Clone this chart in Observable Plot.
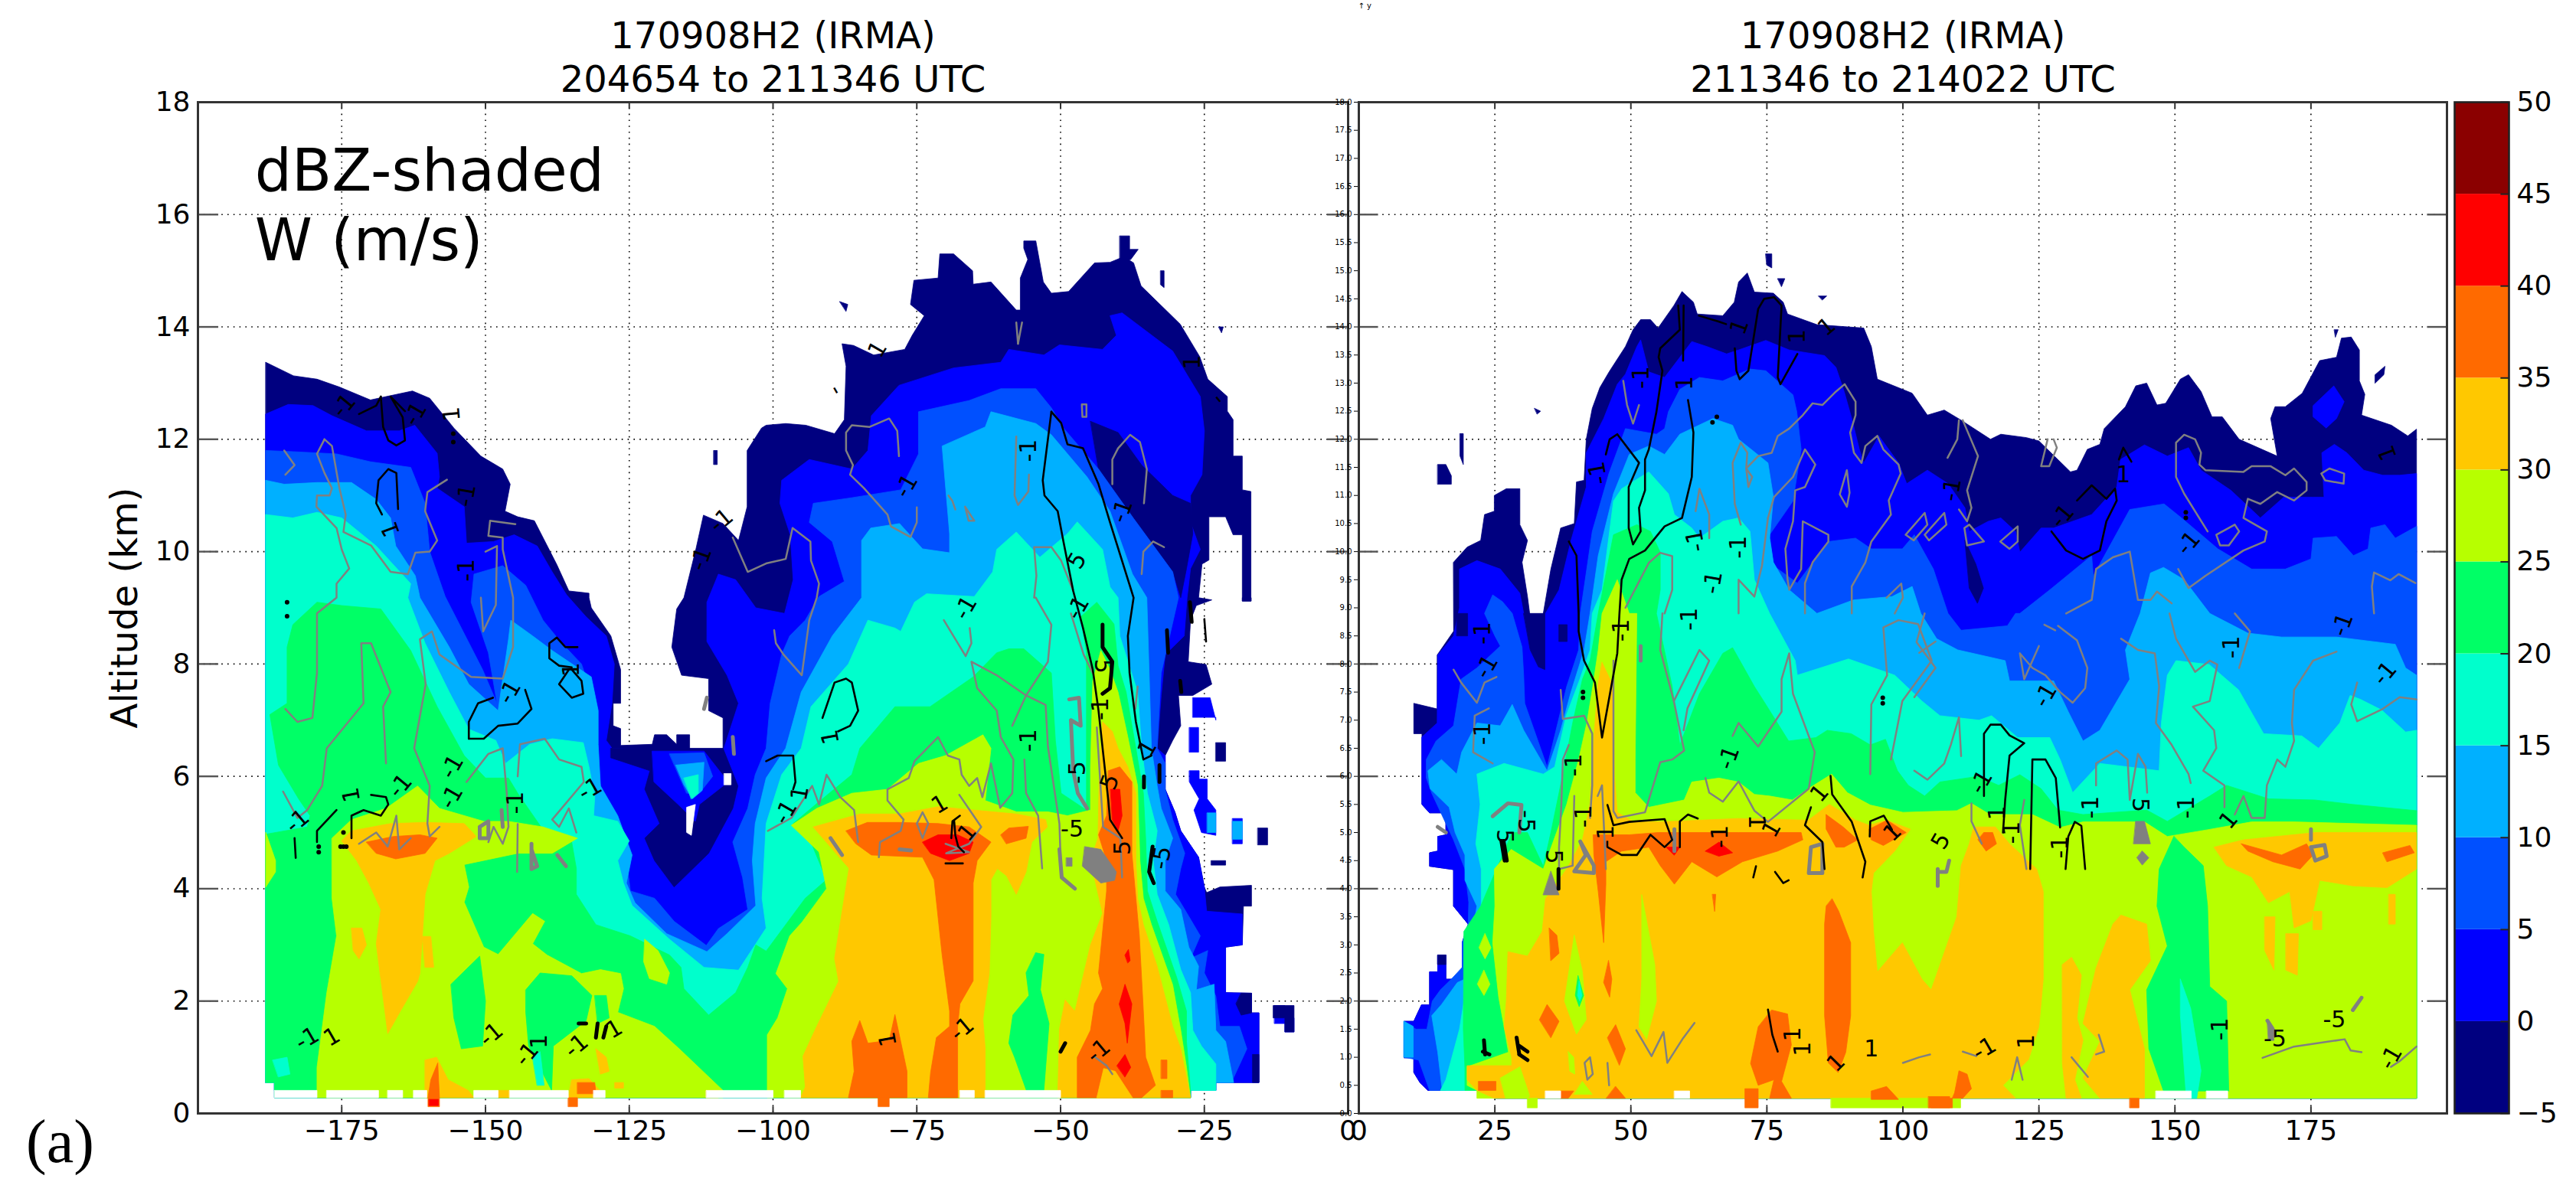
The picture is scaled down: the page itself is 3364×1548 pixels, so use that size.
<!DOCTYPE html>
<html><head><meta charset="utf-8">
<script src="https://cdn.jsdelivr.net/npm/d3@7"></script>
<script src="https://cdn.jsdelivr.net/npm/@observablehq/plot@0.6"></script>
<style>html,body{margin:0;padding:0;background:#fff}#c{position:relative;width:3364px;height:1548px;overflow:hidden;font-family:"DejaVu Sans"}#c svg{position:absolute;top:0;max-width:none}</style>
</head><body><div id="c"></div>
<script>
const C={n:"#000080",b0:"#0000ff",b5:"#0050ff",b10:"#00b0ff",b15:"#00ffcc",b20:"#00ff66",b25:"#b7ff00",b30:"#ffc800",b35:"#ff6a00",b40:"#ff0000",b45:"#8b0000",w:"#ffffff"};
const barLevels=[-5,0,5,10,15,20,25,30,35,40,45,50];
const barColors=[C.n,C.b0,C.b5,C.b10,C.b15,C.b20,C.b25,C.b30,C.b35,C.b40,C.b45];
const yTicks=[0,2,4,6,8,10,12,14,16,18];
const xTicksL=[-175,-150,-125,-100,-75,-50,-25,0];
const xTicksR=[0,25,50,75,100,125,150,175];
const barTicks=[-5,0,5,10,15,20,25,30,35,40,45,50];

// ---------- LEFT PANEL: reflectivity regions (x km, altitude km)
const L_env=[-188.2,13.37,-183.4,13.13,-179.3,13.07,-175.4,12.93,-170,12.7,-162.7,12.86,-159.7,12.73,-155.5,12.2,-150.8,11.7,-147,11.47,-145.7,11.2,-146.6,10.72,-144.4,10.62,-141.5,10.55,-137.6,9.77,-135.5,9.3,-132,9.26,-132,9.18,-131.6,9,-128.2,8.5,-126.5,7.9,-126.5,7.3,-127.8,7.3,-127.8,6.9,-126.5,6.85,-126.5,6.55,-121,6.57,-120.6,6.74,-118.5,6.74,-116.75,6.57,-116.75,6.74,-114.5,6.74,-114.5,6.45,-108.7,6.45,-108.7,7.04,-111.2,7.17,-111.2,7.74,-115.9,7.8,-117.6,8.3,-116.75,8.98,-115.5,9.18,-113.4,10.05,-112.1,10.65,-108.7,10.5,-106,10.2,-104.5,10.8,-104.5,11.8,-102,12.2,-101.2,12.25,-97.8,12.28,-94.3,12.25,-89.3,12.1,-87.6,12.35,-87.3,13.3,-88,13.7,-86,13.67,-82.5,13.5,-77.1,13.6,-75.8,13.85,-73.7,14.2,-76.1,14.4,-75.5,14.83,-71.3,14.87,-71,15.3,-68.6,15.3,-65.3,15,-65.2,14.76,-62.1,14.8,-57.7,14.3,-57,14.3,-57,14.87,-55.7,15.2,-56.4,15.4,-56.4,15.53,-54.3,15.53,-53,14.8,-51.6,14.6,-48.6,14.63,-44.1,15.14,-41.4,15.15,-39,15.25,-37.3,15.14,-36,14.73,-29.2,14.05,-25.8,13.47,-24.4,13.07,-21,12.76,-21,12.5,-20,12.35,-20,11.7,-18.4,11.7,-18.4,11.1,-16.9,11.07,-16.9,9.12,-18.4,9.12,-18.4,10.3,-20,10.3,-21.3,10.62,-24.2,10.62,-24.2,9.85,-25.4,9.78,-26,9.18,-23.7,9.14,-26.4,9.04,-27.4,8.78,-27.8,8.04,-24.7,7.99,-23.7,7.64,-27,7.44,-29.5,7.44,-29.1,6.9,-30.5,6.64,-31.8,6.37,-31.8,5.77,-30.1,5.36,-29.1,5.03,-26,4.56,-25,4.03,-24.6,3.93,-22.3,4.03,-16.8,4.06,-16.8,3.69,-18.2,3.69,-18.4,3,-21.3,2.96,-21.3,2.15,-16.8,2.14,-16.8,1.79,-15.5,1.79,-15.5,.55,-23,.55,-23,.41,-27.4,.41,-27.4,.28,-186.7,.28,-186.7,.55,-188.2,.55];
const L_ge0=[-188.2,12.45,-184.3,12.62,-180,12.6,-176.7,12.42,-170.7,12.15,-165,12.15,-162.3,12.25,-158.4,11.75,-158,11.33,-158.4,11.13,-153.7,10.8,-153.3,10.15,-148.6,10.18,-145,10.3,-141,10.1,-138.4,9.64,-135.9,9.23,-132.5,8.84,-129,8.5,-127.6,8,-128,7.3,-129,6.64,-128,6.5,-108.7,6.45,-106,7.3,-108,7.8,-111.5,8.4,-111.5,9.1,-109.5,9.6,-106.5,9.5,-103,9,-98,8.9,-96.5,9.5,-97,10.3,-98.8,10.86,-98.5,11.27,-93.7,11.64,-86.3,11.47,-83.5,11.8,-82.9,12.42,-78.1,12.96,-68.6,13.27,-60.4,13.37,-59,13.6,-52.9,13.5,-50.2,13.68,-42.7,13.6,-40.3,13.85,-41.4,14.2,-39.3,14.25,-30.5,13.57,-25.7,12.76,-25,12.15,-25.4,11.37,-27.4,11,-27.4,10.52,-25.7,10.04,-27.4,9.7,-28,9.18,-28.5,8.5,-31.8,8.17,-32.5,7.44,-33.2,6.5,-31.8,6.37,-31.8,5.77,-30.1,5.36,-29.1,5.03,-26,4.56,-25,4.03,-24.6,3.6,-18.4,3.55,-18.4,3,-21.3,2.96,-21.3,2.15,-16.8,2.14,-16.8,1.79,-15.5,1.79,-15.5,.55,-23,.55,-23,.41,-27.4,.41,-27.4,.28,-186.7,.28,-186.7,.55,-188.2,.55];
const L_navyMoat=[-128.2,6.5,-108.7,6.5,-106.1,5.83,-107,5.43,-111.2,4.63,-117.2,4.03,-120.6,4.5,-122.3,4.9,-119.7,5.16,-122.3,5.77,-121.4,6.1,-128.2,6.33];
const L_navyTongue=[-44.8,12.32,-40,12.12,-35.9,11.54,-30.5,11,-27.4,10.86,-27,10.32,-28.1,9.7,-29.1,9.18,-30.5,9.64,-37.3,10.59,-43.4,11.47];
const L_navySpots=[[-18.6,2.14,-16.8,2.14,-16.8,1.79,-18.6,1.75,-19.5,1.95],[-16.6,1.05,-15.5,1.05,-15.5,.55,-16.6,.55],[-13,1.92,-9.4,1.92,-9.4,1.45,-11,1.45,-11,1.7,-13,1.7]];
const L_moatBlue=[-121,6.45,-112,6.45,-107.8,5.9,-112.8,5.5,-113.5,5.2,-116.5,5.5,-120.7,5.9];
const L_moat5=[-118,6.4,-112,6.42,-110.5,6,-112.8,5.7,-115,5.7];
const L_moat10=[-116.9,6.2,-112,6.25,-112.3,5.75,-114,5.6,-115.5,5.85];
const L_moat15=[-115.5,5.97,-113,6.03,-113,5.7,-114.2,5.6];
const L_ge5=[-188.2,11.8,-183.5,11.78,-175.9,11.74,-170,11.6,-163,11.5,-160.5,10.86,-159.7,10,-157,9.2,-150.5,7.9,-148,7.3,-149.5,8.2,-152.5,9.1,-152,9.6,-147,9.75,-143,9.4,-140,8.78,-137,8.4,-133.3,8,-130.6,7.17,-130.4,6,-129,5.43,-128.2,4.83,-125.3,4.36,-124.8,3.96,-120.6,3.83,-117.2,3.42,-111.6,2.99,-109.5,3.29,-104.4,3.63,-105.3,4.2,-107,4.83,-104.4,5.43,-103.1,6.03,-101.2,6.5,-100.5,7.3,-98.5,8.17,-97.1,8.5,-94.4,8.78,-92,9.2,-87.6,9.47,-89.7,10.18,-93.7,10.52,-93,10.86,-86.3,10.96,-77.8,11.1,-74.7,11.74,-74.7,12.49,-65.9,12.69,-60.4,12.9,-54.3,12.9,-51.6,12.56,-49.5,12.2,-43.4,11.47,-37.3,10.59,-30.5,9.64,-29.5,9.18,-32.5,7.84,-33.2,6.5,-31.8,6.23,-31.8,5.77,-30.5,5.23,-28.4,4.63,-29.1,4.36,-30,3.9,-28,3.56,-25.7,3.16,-27.4,2.76,-24.4,2.9,-25,2.5,-23,2.09,-22.3,1.55,-18.9,1.55,-17.6,1.15,-20.3,.55,-23,.55,-23,.41,-27.4,.41,-27.4,.28,-186.7,.28,-186.7,.55,-188.2,.55];
const L_ge10=[-188.2,11.27,-185,11.2,-179.3,11.23,-173.3,11.23,-169,10.93,-166.5,10.6,-165.6,10.1,-162.2,9.57,-161.4,9.18,-156.3,8.3,-152.9,7.64,-147.8,7.17,-146,8.44,-145.6,8.78,-141.8,8.5,-138.4,8.24,-131.6,7.77,-130.4,7.17,-130.4,6.57,-130,5.83,-127,5.3,-124.5,4.6,-125.5,4.1,-124,3.75,-118.5,3.2,-111.5,2.88,-108,3.2,-103,3.7,-103.6,4.5,-103.1,5.16,-101.2,5.97,-97.8,6.5,-95.1,7.5,-89.7,8.5,-84.6,9.18,-84.6,10.2,-83,10.42,-78,10.5,-74,10.05,-69.3,9.98,-69.3,10.32,-70.6,11.88,-63.1,12.22,-62.1,12.49,-54.3,12.28,-51.6,12.08,-45.4,11.33,-41.4,10.72,-37.5,9.6,-35,9.18,-34.6,7.84,-34.2,6.5,-33.2,5.83,-32.5,5.43,-30.5,4.9,-31.8,4.5,-31.8,3.96,-29.1,3.63,-27.7,2.96,-26,2.62,-26.4,2.2,-23.3,2.3,-23,1.48,-21.3,1.28,-19.9,.55,-23,.55,-23,.41,-27.4,.41,-27.4,.28,-186.7,.28,-186.7,.55,-188.2,.55];
const L_ge15=[-188.2,10.66,-183.5,10.6,-179.3,10.7,-175,10.6,-169,10.1,-163,9.43,-163.5,9.18,-160.5,8.37,-156.3,7.5,-152.9,6.84,-148.2,6.64,-146.5,6.23,-142.3,6.57,-138.4,6.67,-133,6.6,-132,6.17,-131,5.63,-131.2,5.3,-127,5.2,-125,4.85,-127,4.5,-126,4.1,-124.5,3.7,-118,3.1,-112,2.6,-106,2.55,-101.2,3.3,-101.9,3.83,-101.2,5.16,-98.5,6.03,-95.1,6.5,-93.4,7.24,-86.9,8,-83.5,8.78,-78.8,8.64,-77.8,8.58,-75.4,9.1,-73.3,9.25,-65,9.2,-61.8,9.64,-61.1,10.04,-57.7,10.35,-53.6,9.9,-48.8,10.32,-47.1,10.53,-42.7,10.04,-41.4,9.37,-40,9.18,-39.7,8.5,-36.6,7.5,-35.9,6.5,-34.9,5.7,-33.2,5.03,-33.9,4.5,-33.2,3.9,-31.2,3.36,-29.1,2.56,-27.4,2.15,-27,1.48,-25.5,1.2,-23,.88,-23,.55,-23,.41,-27.4,.41,-27.4,.28,-186.7,.28,-186.7,.55,-188.2,.55];
const L_ge20=[-188.2,4.97,-181,5.1,-180.5,5.3,-182.5,5.6,-186,6.2,-187.5,7.1,-184.5,7.3,-184.5,8.3,-183.5,8.7,-179.3,9.1,-175,9.04,-168.2,8.98,-163,8.24,-158.4,7.24,-153.7,6.37,-150,5.97,-146,5.97,-144.4,5.7,-140,5.05,-135,4.83,-134.2,4.36,-134.2,3.9,-130.8,3.36,-124.8,3.16,-118,2.82,-116,2.6,-115.5,2.22,-111.2,1.75,-106.5,2.15,-104.4,2.6,-103,3,-101.2,2.89,-94.4,3.83,-90.7,4.16,-93.7,4.9,-96.5,5.16,-92,5.55,-86.3,6.03,-84.9,6.5,-78.8,7.24,-72.7,7.24,-65.2,7.77,-61.1,8.2,-59,8.27,-56.4,8.27,-51.6,7.84,-50.9,6.64,-49.9,5.7,-45.5,5.4,-45.5,7,-45.5,8.2,-46.5,8.84,-43.7,9.1,-40.7,8.71,-40,7.97,-38.6,7.5,-36.9,6.5,-35.6,5.7,-35.2,4.9,-34.9,3.96,-33.2,3.42,-29.8,2.42,-28.1,1.82,-28.1,1.28,-27.4,.41,-27.4,.28,-186.7,.28,-186.7,.55,-188.2,.55];
const L_ge25a=[-176.7,4.9,-173.3,5.23,-167.3,5.43,-161.8,5.83,-158,5.43,-150.3,5.2,-146,5.2,-140,5.1,-134,4.9,-138.4,4.63,-144.4,4.63,-153.7,4.43,-152.9,4.03,-153.7,3.76,-150.3,2.96,-147.8,2.83,-141.8,3.56,-139.7,3.42,-141.8,3.02,-139.3,2.82,-133.3,2.49,-130,2.56,-126.5,2.49,-126,2.22,-127,1.8,-120.6,1.55,-116.3,1.15,-108.7,.41,-108.7,.28,-179.3,.28,-179.3,.82,-177.6,2.15,-175.9,3.16,-176.7,3.83];
const L_ge25b=[-96.8,5.13,-92.4,5.43,-86.3,5.7,-80.1,5.77,-74.7,6.23,-70,6.37,-63.5,6.74,-62.1,6.5,-63.1,5.57,-57.7,5.37,-52.2,5.37,-48.8,5.3,-44.8,5.4,-44.8,6.17,-44.4,7.7,-43,8.24,-41.4,7.9,-40,7.5,-38.3,6.7,-36.6,5.83,-36.2,4.5,-35.6,3.83,-34.2,3.36,-30.5,2.29,-29.1,1.48,-28.1,.82,-27.4,.28,-101,.28,-101,1.4,-99.2,1.7,-97.5,2.22,-99.5,2.49,-97.1,3.16,-95,3.4,-90.7,4,-92,4.65];
const L_ge25c=[-188.2,5,-186.5,4.5,-186.5,4.3,-188.2,4.03];
const L_ge25d=[-122.3,3.1,-120,2.9,-118,2.5,-118.5,2.3,-121.5,2.4,-122.5,2.7];
const L_holes20=[[-156,2.3,-151,2.8,-150,2,-150.5,1.2,-154.2,1.15,-155.5,1.7],[-143,2.2,-140.5,2.5,-135,2.45,-131.5,2.1,-132.5,1.65,-138.2,1.2,-138.5,.41,-142.5,1.2,-143,1.8],[-131,2.1,-129,2.1,-128.5,1.7,-130.5,1.6],[-54.3,2.86,-52.9,2.83,-53.5,2.2,-52,1.6,-53,.28,-55.5,.28,-58,1,-59,1.25,-58.3,1.75,-55.5,2.1,-56,2.5],[-184,1.2,-181.5,1.2,-180,.9,-181,.41,-186,.41,-186,.8]];
const L_cyanSpots=[[-187,.95,-184.5,1,-184,.7,-186,.65],[-141.8,1,-140.5,1.1,-139.8,.5,-141,.5]];
const L_ge30=[[-173.3,5.03,-166.5,5.16,-160.5,5.18,-153.7,5.16,-151.6,4.93,-156.3,4.63,-158.8,4.5,-160.5,3.9,-161.4,2.49,-161.8,2.35,-164.8,1.82,-167,1.42,-169,3.02,-168.2,3.63,-170.3,4.1,-172.4,4.5,-175,4.85],[-173.3,3.3,-171.5,3.3,-170.7,3,-172,2.75,-173,2.9],[-161,3.15,-159.5,3.15,-159,2.6,-160.5,2.6],[-160.5,.95,-158.5,1,-156.5,.6,-153,.41,-152,.28,-160.5,.28],[-135,.6,-132,.62,-130,.4,-130,.28,-135.6,.28],[-130.8,1.15,-129,1,-128.5,.75,-130,.7],[-127.5,.55,-126,.55,-126,.45,-127.5,.45],[-111.6,.41,-109.5,.41,-109.5,.28,-111.6,.28],[-147.8,.41,-145.8,.41,-145.8,.28,-147.8,.28],
[-93,5.1,-84.9,5.33,-78,5.33,-71.3,5.46,-57.7,5.33,-52.6,5.23,-52.3,5.1,-55,4.83,-56,4.3,-57.7,3.9,-59.4,4.23,-61,4.36,-62.1,4.16,-62.1,3.49,-62.4,2.49,-63.5,1.68,-63.1,1.15,-63.1,.28,-95.2,.28,-94.4,.47,-94.8,1.02,-92.4,1.55,-88.6,2.35,-89.3,2.76,-86.8,4.36],
[-42.7,6.97,-41,6.8,-40,6.5,-38.3,6.17,-36.9,5.7,-36.9,4.5,-36.6,3.83,-35.6,3.36,-33.2,2.62,-30.5,1.55,-29.1,1.15,-27.4,.28,-50.5,.28,-50.2,1.5,-49.2,2.02,-47.5,1.82,-44.8,3,-42.7,3.56,-44.8,4.5,-43.5,4.9,-43.3,5.9]];
const L_ge35=[[-170.7,4.83,-166,4.93,-161.4,4.96,-158.4,4.9,-160.5,4.63,-165.6,4.53,-169,4.63],[-87.3,5.03,-83.6,5.18,-78,5.18,-71.3,5.16,-65.9,5.1,-62.1,4.83,-64.5,4.5,-65.2,4.1,-65.2,2.36,-67.5,1.95,-67.9,1.55,-67.9,.28,-73,.28,-72.6,.73,-71.6,1.35,-69.3,1.55,-69.3,1.82,-70.6,2.82,-72,4.16,-74,4.56,-82.9,4.6,-85.6,4.8],[-60.4,4.96,-59,5.08,-55.6,5.11,-56,4.9,-59.4,4.8],[-84.9,1.65,-83.5,1.25,-79.8,1.3,-78.8,1.76,-77.8,1.28,-76.7,.75,-76.7,.28,-86.9,.28,-85.9,.75,-86.3,1.28],[-81.7,.28,-79.8,.28,-79.8,.12,-81.7,.12],[-41.7,6.1,-39.7,6.17,-37.6,5.9,-37.6,4.63,-36.9,3.83,-36.3,3.16,-35.6,1.82,-35.2,1,-33.5,.5,-35.9,.28,-47.1,.28,-47.1,1,-44.8,1.48,-44.1,1.95,-42.7,2.22,-43.4,2.5,-42,3.96,-42,4.5,-43.4,4.96,-42,5.3],[-32.5,.95,-31.5,.95,-31.5,.62,-32.5,.62],[-32.5,.41,-30.5,.41,-30.5,.28,-32.5,.28],[-159.5,.6,-158.3,.9,-158,.28,-158,.12,-160,.12,-160,.28],[-135.6,.28,-134,.28,-134,.12,-135.6,.12],[-134,.55,-131,.55,-130.8,.35,-134,.35]];
const L_amberSpots=[[-43.7,.28,-42.5,.8,-40.5,.75,-37.5,.28]];
const L_ge40=[[-74,4.83,-71.3,4.96,-67.9,4.96,-65.2,4.83,-65.9,4.63,-69.3,4.5,-72.6,4.63],[-41.3,5.77,-39.7,5.77,-39.3,5.3,-40,5.03,-41,5.23],[-38.8,2.82,-38.2,2.92,-37.9,2.72,-38.3,2.68],[-39.8,1.95,-38.8,2.3,-37.6,1.95,-38.4,1.25,-38.8,1.6],[-40.2,.85,-38.8,1.05,-37.8,.82,-38.8,.65],[-159.8,.25,-158.2,.25,-158.2,.14,-159.8,.14]];
const L_gapsX=[[-186.7,-179.3],[-177.6,-168.6],[-167,-164.4],[-162.5,-160.2],[-152,-147.8],[-145.8,-135.6],[-131.2,-129.2],[-111.6,-100],[-98,-95.2],[-67.5,-65],[-63.1,-50]];
const L_isles=[[-110.3,11.8,-109.7,11.8,-109.7,11.55,-110.3,11.55],[-88.4,14.45,-87,14.4,-87.3,14.28],[-39.7,15.62,-38,15.62,-38,15.38,-36.5,15.38,-37.8,15.2,-39.7,15.15],[-32.6,15,-32,15,-32,14.7,-32.6,14.75],[-22.5,14,-21.7,14,-22,13.9],[-16.9,9.18,-18.4,9.18,-18.4,9.12,-16.9,9.12],[-23,6.6,-21.3,6.6,-21.3,6.27,-23,6.27],[-23.8,4.5,-21.3,4.5,-21.3,4.42,-23.8,4.42],[-15.7,5.08,-14,5.08,-14,4.78,-15.7,4.78]];
const L_bluePieces=[[-27.6,6.87,-26,6.87,-26,6.43,-27.6,6.43],[-27,7.4,-24,7.4,-23,7,-23,7.05,-26,7.05,-27,7.05],[-27.6,6.1,-25.9,6.1,-25.9,5.95,-24.5,5.95,-24.5,5.6,-23,5.4,-23,4.95,-25.5,5,-26.8,5.4,-25.9,5.6,-27.6,5.9],[-20.1,5.25,-18.4,5.25,-18.4,4.8,-20.1,4.8],[-12.8,1.92,-11,1.92,-11,1.7,-9.4,1.7,-9.4,1.45,-11,1.45,-11,1.6,-12.8,1.6]];
const L_b10Pieces=[[-20.1,5.2,-18.4,5.2,-18.4,4.88,-20.1,4.88],[-24.5,5.35,-23,5.35,-23,5,-24.5,5]];
const L_gray=[[-185,11.8,-183.2,11.54,-184.8,11.37],[-178,12,-179.3,11.74,-178,11.4,-176.7,11.13,-177.1,11,-179.3,11,-179.4,10.8,-175.9,10.42,-175,10.04,-173.7,9.7,-175.9,9.43,-175.9,9.18,-179.3,8.9,-179.3,7.84,-180.1,7.04,-182.7,6.97,-184.8,7.2],[-178,12,-176.7,11.88,-175.4,11.13,-174.3,10.66,-174.7,10.35,-169.9,10.11,-166.5,9.64,-163.5,9.6,-162.2,9.98,-159.7,10,-158.4,10.2,-160.5,10.72,-160.1,11.06,-156.7,11.28],[-167.3,6.23,-167.8,7.24,-166.5,7.5,-169.9,8.37,-171.6,8.37,-171.2,7.3,-177.6,6.5,-178.4,5.83,-181,5.4,-182.7,5.26,-185.2,5.73],[-158,5.1,-159.7,4.93,-160.1,5.16,-159.7,5.83,-162.4,6.5,-160.4,7.64,-161.4,8.44,-159.3,8.58,-158,8.17,-152.5,7.77,-147,7.74,-145.2,8.3,-145.2,9.18,-147,10.04,-147,10.25,-149.5,10.28,-149.2,10.55,-144.8,10.49],[-150.8,9.18,-150.4,8.58,-148.2,9.05,-148,10.1,-150,10],[-153.3,5.9,-149.5,6.4,-147,6.5,-146.3,5.7,-146,5.1,-147,4.8,-148.6,5.1,-149.5,4.83],[-144.4,6,-144,6.57,-139.7,6.67,-137.2,6.3,-133.3,6.17,-132.9,5.9,-138.4,5.23,-137.2,5.1,-135.5,5.43,-134.2,5],[-172,4.8,-169,5,-167,4.75,-165.5,5.3,-165,4.7,-163,4.9],[-144.5,4.3,-144.4,5.15],
[-78.1,11.7,-78.4,12.15,-79.8,12.37,-83.2,12.22,-86.3,12.25,-87.3,12.12,-87.3,11.8,-86.1,11.54,-86.6,11.37,-84.2,11.13,-80.1,10.66,-79.5,10.45,-76.1,10.26,-75,10.52,-75,10.79],[-107,10.25,-104.4,9.64,-101.2,9.79,-97.8,9.87,-96.6,10.42,-93.5,10.18,-93.4,9.84,-92,9.43,-92.4,9.18,-93.7,8.78,-95,7.8,-98.2,8.17,-99.5,8.37,-99.8,8.6],[-100.9,5.03,-96.8,5.26,-93.2,5.83,-92,5.5,-90.7,6.03,-88.3,5.63,-85.9,5.4,-85.2,4.83],[-81.6,4.56,-81.4,4.83,-77.8,5.03,-77.3,5.23,-80.1,5.57,-80.1,5.77,-76.4,5.97,-75.4,6.27,-71.3,6.7,-69.6,6.37,-67.6,6.3,-67.2,6.03,-65.9,5.83,-64.5,5.97,-63.6,5.63,-62.1,6.23,-60.5,5.44,-58.4,5.7,-58.2,6.3,-60.4,6.7,-61.1,7.17,-64.5,7.57,-65.5,8.04,-61.1,7.8,-56,7.44,-58.4,6.9],[-56,7.44,-52.2,8.04,-51.6,8.7,-54.3,9.18,-54.6,9.18,-54.2,9.57,-54.6,10.08,-51.6,10.08,-49.9,9.84,-47.8,9.3],[-56,7.44,-52.6,7.27,-52.2,6.53,-50.2,5.16,-49.9,4.23],[-56.3,6.3,-56,5.7,-53.9,5.3,-53.2,4.36],[-70.3,8.78,-66.5,8.14,-65.5,8.37,-65.8,8.64],[-67.6,5.67,-63.8,5.1,-65.9,4.8,-69.9,4.63,-65.9,4.65,-70,4.8],[-75,5.16,-74,5.36,-73,5.16,-74,4.9,-75,5.16],[-43.7,6.87,-42.6,5.1,-39.6,4.9,-39.3,4.2],[-48.2,8.9,-46,8.17,-44.4,7.84],[-57.7,12.05,-58,11,-57.4,10.83,-55.6,11.07,-55.5,11.37],[-41,11.2,-41,11.64,-40,11.84,-37.9,12.08,-36.2,11.95,-35,11.47,-35.5,10.86],[-35.9,9.6,-35.6,10,-33.9,10.18,-32,10.08],[-57.4,13.7,-57.7,14.08],[-56.7,14.08,-57.4,13.7],[-46.2,12.4,-46.3,12.62,-45.5,12.62,-45.5,12.4,-46.2,12.4],[-36.6,7.6,-37,7.2],[-69.5,11,-68.8,10.9,-68.3,10.75],[-66.6,10.8,-66,10.55,-65,10.55,-66.6,10.8],[-44,1,-42,.85,-41,.7]];
const L_grayThick=[[-48.5,7.37,-46.8,7.4,-46.5,6.9,-48.2,7,-47.8,6.1,-47,5.7,-45.4,5.43],[-50.2,4.7,-49.8,4.2,-47.5,4],[-90,4.9,-88,4.6],[-78,4.7,-76,4.68],[-151,5.1,-149.5,5.2,-149.5,4.9,-151,4.9,-151,5.1],[-147.2,5.4,-147,5.1],[-142,4.8,-142,4.35,-141,4.4,-142,4.7],[-137.5,4.6,-136,4.4],[-112,7.2,-111.5,7.4],[-107,6.7,-106.8,6.4]];
const L_grayBlobs=[[-45.8,4.75,-43,4.7,-40.3,4.3,-40.6,4.15,-43,4.1,-46.2,4.4],[-49,4.55,-48,4.55,-48,4.4,-49,4.4]];
const L_black=[[-168.2,12.76,-167.8,12.22,-166.9,11.98,-165.5,11.89,-164,11.98,-164.4,12.39,-166.5,12.76,-164,12.5],[-172,12.45,-169,12.6,-168.2,12.76],[-168,10.66,-169,10.86,-168.6,11.27,-166.9,11.47,-165.5,11.4,-165.2,10.76],[-152.9,6.67,-152.9,6.97,-151.3,7.3,-148.7,7.4],[-143.1,7.54,-142,7.2,-144.4,6.94,-147.8,6.9,-150.3,6.67,-152.9,6.67],[-134,8.3,-136.1,8.3,-137.6,8.47,-138.9,8.37,-138.9,8.1,-137.2,7.97,-135,7.94],[-135.5,7.9,-137.2,7.64,-135,7.4,-133,7.47,-133.3,7.7,-135,7.9],[-173.3,4.9,-173.3,5.3,-171.2,5.4,-168.2,5.3,-166.9,5.5,-167.3,5.63,-169.9,5.67],[-179.3,4.83,-179.3,5.03,-175.9,5.4],[-91.4,7.04,-89.3,7.67,-87.3,7.74,-86.3,7.67,-85.2,7.17,-86.6,6.9,-88.7,6.8],[-101.2,6.27,-99.2,6.37,-96.5,6.37,-96.1,5.9,-96.5,5.77],[-51.6,12.49,-53.1,11.27,-52.8,11,-50.5,10.72,-49.5,10.18,-47.8,9.3,-46.1,8.64,-44.4,7.9,-43.4,7.17,-41.7,5.57,-41.4,5.23,-39.3,4.9],[-51.6,12.49,-49.9,12.29,-48.8,11.91,-46.1,11.84,-43.4,11.2,-41.4,10.52,-37.3,9.18,-38.3,8.5,-38,7.84,-36.9,6.97,-35.6,6.3,-34.2,6.37],[-68.5,5.2,-68.3,4.95,-67.8,4.75,-66.8,4.65],[-67.5,5.3,-68.8,5.2,-69,4.9],[-183,4.55,-183.2,4.9],[-70,4.45,-67,4.45],[-25,8.8,-24.7,8.4]];
const L_blackThick=[[-42.7,8.7,-42.7,8.3,-41,8.04,-41.4,7.57,-42.7,7.47],[-34,4.75,-34.6,4.3,-33.8,4.1],[-32.8,6.2,-32.8,5.9],[-31.5,8.6,-31.3,8.2],[-29.2,7.7,-29,7.5],[-27.5,9.1,-27.2,8.75],[-35.5,6,-35.5,5.8],[-133.8,1.6,-132.5,1.6],[-130.5,1.6,-130.8,1.35],[-129,1.55,-129.5,1.35],[-50,1.1,-49.2,1.25]];
const L_marks=[-174.7,4.75,-174.7,5,-175.2,4.75,-174.2,4.75,-179,4.65,-179,4.75,-184.5,8.85,-184.5,9.1,-155.6,11.95,-155.6,12.1];
const L_labels=[[-174.6,12.6,-50,"-1"],[-162.2,12.45,-60,"-1"],[-155.8,12.45,-95,"1"],[-153.3,11,-80,"-1"],[-166.5,10.4,-110,"1"],[-153.3,9.67,-90,"-1"],[-112.5,9.87,-70,"-1"],[-109,10.55,-40,"-1"],[-81.8,13.6,-60,"1"],[-89.3,12.86,-120,"-"],[-27,13.37,-90,"1"],[-22.7,12.7,-130,"-"],[-55.5,11.8,-90,"-1"],[-76.8,11.17,-60,"-1"],[-39.3,10.72,-70,"-1"],[-47.1,9.84,-60,"5"],[-182.7,5.2,-40,"-1"],[-173.3,5.67,-100,"1"],[-164.8,5.83,-50,"-1"],[-155.8,6.17,-60,"-1"],[-155.9,5.63,-60,"-1"],[-144.8,5.53,-90,"-1"],[-131.8,5.77,-30,"-1"],[-145.8,7.5,-60,"-1"],[-135.1,7.9,-90,"1"],[-181,1.33,-30,"-1"],[-176.7,1.36,-30,"1"],[-149,1.4,-40,"-1"],[-140.6,1.28,-90,"1"],[-142.8,1.05,-50,"-1"],[-134.2,1.2,-40,"-1"],[-127.6,1.5,-30,"1"],[-90,6.7,-100,"1"],[-95.3,5.7,-80,"1"],[-97.8,5.36,-60,"-1"],[-66.5,9,-60,"-1"],[-55.6,6.64,-90,"-1"],[-43,7.2,-90,"-1"],[-47,9,-60,"-1"],[-47,6.07,-90,"-5"],[-48,5.06,0,"-5"],[-41.4,5.9,-70,"5"],[-39.2,4.73,-90,"5"],[-42.7,7.96,90,"5"],[-34.9,6.5,-60,"1"],[-32.4,4.55,-80,"-5"],[-71,5.5,-30,"1"],[-66.2,5,-50,"1"],[-67.1,1.5,-40,"-1"],[-80,1.32,-100,"1"],[-43.4,1.11,-40,"-1"]];

// ---------- RIGHT PANEL
const R_env=[17.4,9.81,19.9,10.08,22.4,10.2,23.1,10.66,24.9,10.72,24.9,11,27.1,11.12,29.6,11.12,29.6,10.48,31,10.2,30,9.81,31,9.2,31.4,8.9,33,8.67,33.9,8.9,35.3,9.69,37.1,10.42,39.6,10.5,40,11.24,41.4,11.27,41.8,12,42.9,12.55,44.3,12.92,46,13.2,49,13.65,50.4,13.95,51.8,14.13,53.6,14.13,55,13.98,57.9,14.38,59.4,14.63,61.5,14.44,62.2,14.23,66.9,14.2,69,14.44,69.8,14.8,71.4,14.96,72.7,14.62,76.2,14.6,78,14.44,78.8,14.23,84.2,14.04,92.8,13.98,94.2,13.65,95.3,13.07,101.7,12.82,104.5,12.43,107.6,12.52,110.7,12.34,116.1,12,118,12.09,122.7,12.03,125,11.97,130.8,11.42,132,11.45,133.9,11.82,136.2,11.91,137,12.19,140.9,12.58,142.8,12.95,144.8,13,146.7,12.61,148.3,12.64,151,13.07,152.5,13.15,154.8,12.85,156.8,12.4,158.7,12.4,161.8,12,168.8,11.7,167.6,12.37,168.4,12.58,170.3,12.58,173.4,12.82,176.6,13.4,179.7,13.46,180.6,13.8,182.4,13.82,183.9,13.59,183.9,13.04,184.9,12.8,184.3,12.43,189.8,12.25,192.8,12.06,194.4,12.18,194.4,.27,24.9,.27,24.9,.41,21.7,.41,20.4,.54,20.4,.72,17.5,.72,15.9,.54,15.9,.41,12.7,.41,11.3,.54,10.1,.73,10.1,.99,8.3,.99,8.3,1.64,10.1,1.64,11.5,1.93,13,1.93,13,2.52,14.5,2.52,14.5,2.82,16,2.82,16,2.39,19,2.39,19,3.04,20.1,3.37,17.4,3.69,17.4,4.34,13,4.4,13,4.64,14.5,4.67,14.5,4.93,16,4.96,16,5.35,13,5.35,11.6,5.5,11.6,6.76,10.1,6.76,10.1,7.3,14.4,7.2,14.4,8.16,17.4,8.58];
const R_ge0=[11.6,6.7,14.4,6.95,14.5,8.16,17.4,8.5,18.5,9,18.5,9.69,21.7,9.84,26,9.69,29.6,9.26,30.3,8.9,33,8.67,34.3,8.9,36.8,9.32,39,10.2,41.8,11.15,41.8,11.76,45,12.37,47.5,12.98,49,13.16,51.1,13.65,51.8,13.77,53.3,13.2,56.2,13.1,61.2,13.74,64,13.65,67.6,13.52,69.8,13.59,74.8,13.76,79.1,13.59,85.6,13.49,87.7,13.28,89.2,12.85,90.6,12.37,92,11.82,92.8,11.58,95.6,12.06,99.2,11.58,100.7,11.21,104.5,11.45,108.3,11.21,111.4,10.78,112.2,10.36,115.7,10.54,118,10.6,120.7,10.36,121.5,9.99,125.4,10.42,127.7,10.42,134.7,10.66,139.3,11.15,140,11.64,144.4,11.9,148.6,11.7,152.5,11.85,154.8,11.45,160.3,11.09,165.7,10.6,170,10.97,175.4,10.97,177.4,10.97,177,11.76,179.3,11.91,181.6,11.76,184.7,11.45,188.2,11.36,191.3,11.36,194.4,11.39,194.4,.27,24.9,.27,24.9,.41,21.7,.41,20.4,.54,20.4,.72,17.5,.72,15.9,.54,15.9,.41,12.7,.41,11.3,.54,10.1,.73,10.1,.99,8.3,.99,8.3,1.64,10.1,1.64,11.5,1.93,13,1.93,13,2.52,14.5,2.52,14.5,2.82,16,2.82,16,2.39,19,2.39,19,3.04,20.1,3.37,17.4,3.69,17.4,4.34,13,4.4,13,4.64,14.5,4.67,14.5,4.93,16,4.96,16,5.35,13,5.35,11.6,5.5];
const R_blueBlob=[175.4,12.6,179.2,12.95,181.1,12.67,179.7,12.37,177.8,12.2,175.4,12.4];
const R_navySpots=[[111.4,10.2,113.4,9.78,114.8,9.35,113.7,9.08,112.2,9.35],[30.3,8.9,34.2,8.9,34.2,7.9,33,7.95,31.5,8.25],[18,8.9,20,8.9,20,8.5,18,8.5],[14.5,2.82,16,2.82,16,2.65,14.5,2.65],[16.5,2.33,18,2.33,18,2,16.5,2],[36.8,8.7,38.3,8.7,38.3,8.4,36.8,8.4]];
const R_ge5=[194.4,10.45,190.5,10.24,188.6,10.48,186,10.42,185.5,10.05,182.8,9.93,179.7,10.27,175.4,10.24,175,9.87,170.3,9.69,164.1,9.69,157.9,10.05,151.2,10.6,148,10.85,141.7,10.75,135,9.57,134.7,9.93,127,9.32,121.5,8.9,120.7,8.9,119.2,8.68,110.7,8.6,108.3,8.9,105.6,9.69,102.1,10.3,99.9,10.05,94.2,10.05,91.3,10.24,86.3,10.18,80.6,9.44,76.2,9.75,75.5,10.3,79.8,10.9,81.3,11.82,80.5,12.49,79.8,12.79,74.8,13.22,71.9,13.25,66.9,13.04,62.6,13.1,59,12.89,56.9,12.49,56.2,12.19,54.7,12.09,49,12.19,46,11.4,42.9,10.36,40.7,8.9,40.4,8.25,38.2,7.6,34.6,6.17,30.5,7.3,30.3,7.8,30,8.3,28.2,8.9,26.4,9.11,24.6,9.23,23.1,8.9,25,8.5,26,8.32,21.7,7.93,18.8,7.73,17.4,6.9,14.2,6.63,12.4,6.3,12.4,5.97,13.4,5.7,17.4,4.87,19.5,4.35,20.2,3.76,20.1,3.37,19,3.04,19,2.6,17,2.39,15,2.2,13.5,2,12.5,1.5,10.5,1.5,8.3,1.64,8.3,1,11,.95,13,.41,24.9,.41,24.9,.27,194.4,.27];
const R_ge10=[194.4,7.8,192.4,7.93,190.5,8.35,179.7,8.48,169.6,8.48,163.4,8.55,156.4,8.9,151.7,9.5,147.9,9.72,145.5,9.62,143.6,8.9,140.9,8.25,141.7,7.73,136.2,6.82,133.1,6.63,130.4,7.15,127.7,7.7,119.6,7.7,118.8,8.06,110.1,8.25,106.2,8.45,103.3,8.9,101.7,9.38,98,9.2,90.9,9.14,84.2,8.9,79.1,9.32,76.2,9.81,75.5,10.24,76.2,10.97,75.2,11.58,69.8,12,68.7,12.25,65.1,12.37,59,12.09,56.2,11.73,53.3,11.88,49.7,11.73,46.8,11.03,44,9.93,42.5,8.9,41.4,8.25,38.9,7.47,37.1,6.82,34.6,6.1,30.3,6.82,28.2,7.28,26,6.9,21.7,6.95,18.9,6.43,18,6.04,15.2,6.3,12.7,6.1,13.1,5.78,16.6,5.45,17.7,5,19.5,4.6,19.5,4.15,21.7,3.69,19.5,2.39,18.1,2.33,15.2,1.94,13.4,1.74,14.5,1.09,15.3,.44,24.9,.41,24.9,.27,194.4,.27];
const R_b10Spot=[[8.3,1.64,10,1.55,10,1,8.3,1]];
const R_ge15=[194.4,6.82,192.4,6.79,188,7.18,184.1,7.37,182.2,7.44,180.3,6.95,176.4,6.5,173.3,6.72,166.3,6.76,161.7,7.54,156.3,7.99,150.2,8.06,148.6,7.8,147.5,6.95,147.1,6.1,136.2,6.23,131.2,5.71,128.9,6.3,127,6.69,121.1,6.69,116.3,7.08,114,7,106.8,7.08,103.5,7.34,98.5,7.8,90,8.09,80.6,7.8,80.2,8.06,75.5,8.9,72.7,9.5,71.9,10.36,69.8,10.6,66.9,10.54,62.6,10.24,61.2,10.42,58,10.66,56.9,11.03,53.3,11.42,48.3,11.12,46.8,10.9,44.7,9.32,42.9,8.9,42.5,8.25,40.4,7.67,38.1,7.08,36,6.17,33.9,6.04,26.7,6.23,21.7,6.04,22.3,5.5,21.5,4.8,22.5,4.35,22.5,3.7,21,3.2,20,2.4,18.5,1.5,16,.6,15,.41,24.9,.41,24.9,.27,194.4,.27];
const R_ge20=[194.4,5.39,182.7,5.5,175.7,5.58,167.2,5.6,159.5,5.84,156.4,5.65,148.6,5.2,144.8,5.4,133.1,5.32,128.5,5.4,125.4,5.78,121.5,6.03,117.6,5.84,113.8,6,106.8,5.9,104,5.65,101,5.84,99,6.1,96.8,6.66,94,6.56,90.5,6.76,86.1,6.82,84,6.69,79,6.63,74.8,7.28,72.7,7.6,68.7,8.29,66.9,8.19,62.6,7.47,59,6.56,57.6,7.6,54.7,8.9,55.4,9.32,55.4,9.99,53.6,10.36,51.1,10.48,46.8,10.3,44,8.9,42.5,8.06,41.1,7.73,39.3,6.95,37.5,6.04,35.3,5,33.9,4.4,31,5,28.2,5,25.3,4.35,22.4,3.69,19.3,3.24,19.2,1.5,19.5,.8,19.5,.41,24.9,.41,24.9,.27,194.4,.27];
const R_ge25=[194.4,5.13,171.8,5.19,164.1,5.19,156,5.05,148.6,4.93,144.4,5.19,133.1,5.19,128.9,5.09,123.8,5.32,116,5.32,112.6,5.52,109.9,5.39,100,5.36,94,5.49,89.8,5.71,86.9,6.04,82.6,5.78,79.7,5.58,75.5,5.65,72.7,5.68,69.8,5.9,66.2,5.97,61.2,5.9,59.8,5.58,53.3,5.45,50.8,5.71,50.8,6.3,51.1,8.9,49.7,8.9,47.5,9.5,44.7,8.9,44,8.25,43,7.6,41.9,6.95,40.4,6.3,38.2,5.5,33.9,4.35,28,4.7,24.9,4.35,25,3.69,24.6,3.04,25.7,2.07,26.7,1.54,27.5,1.09,19.9,.83,19.9,.5,21.7,.41,21.7,.27,194.4,.27];
const R_lime25b=[[23.2,3.2,24.3,2.95,23.2,2.75,22.1,2.95],[23,2.55,24.1,2.3,23,2.1,21.8,2.3]];
const R_ge30=[[44.7,8.03,46.8,7.6,47,6,47.5,5.36,50.4,5.2,55.4,5.19,69.8,5.25,82.6,5.22,86.5,5.5,91.3,5.22,93.8,5.13,97,5.22,101.4,5.06,98.5,4.67,94.6,4.28,94.2,3.95,94.6,3.24,95.3,2.52,99.9,3.04,103.5,2.39,105.2,2.2,109.9,3.5,110.3,3.95,110.7,4.41,112.2,4.8,113,5.1,117,5.1,119.6,4.8,124.6,4.35,125.8,3.95,125.8,2.39,125,1.54,123.1,.96,118.4,.5,120.7,.27,24.9,.27,21.7,.41,19.9,.6,19.9,.85,28.1,.85,28.1,.99,26.7,1.54,27.1,2,27.4,2.88,31,2.8,33.7,3.24,34.3,3.82,38.2,4.35,41.1,4.87,42.5,5.52,42.9,6.3,43.9,7.6],[129.3,2.65,131,2.78,132.8,2.46,132,1.7,133.1,1.3,131.6,.6,132.8,.27,130,.27,129.3,.9],[140.1,3.53,144.8,3.37,145.5,2.72,141.7,2.2,144.4,1.15,144.4,.27,136.2,.27,133.1,.63,136.2,1.28,133.1,1.6,135.5,2.59,138.6,3.37],[157.2,4.74,162.6,4.87,175.8,5,183.5,5,194.4,5,194.4,4.35,189,4.02,182.7,4.05,176.6,4.15,175,3.43,171.9,3.3,171.1,3.95,167.2,3.75,164.1,4.21,159.5,4.41],[166.5,3.5,168.4,3.5,168.2,2.55,166.5,2.9],[170.4,3.2,172.7,3.2,172.5,2.46,170.4,2.55],[175.4,3.6,177,3.6,177,3.27,175.4,3.27],[189.3,3.9,190.5,3.9,190.5,3.37,189.3,3.37]];
const R_lime=[[39.6,3.17,41.1,2.52,41.8,1.67,40,1.41,37.8,2,38.9,2.72],[52,3.89,54.4,2.65,54.7,2,52.9,1.32,51.5,1.54,52,2.4],[26,.63,29.6,.83,31.4,.31,31,.27,27,.27],[41.1,.57,42.9,.34,39.6,.34],[38.5,1.1,39.5,1,39.7,.7,38.8,.75]];
const R_greenSpots=[[40.3,2.45,41.3,2.1,40.5,1.9,39.8,2.1],[149.8,4.93,147.1,4.35,146.7,3.69,148.6,2.98,144.8,2.2,145.2,1.15,147.9,.4,159.9,.4,159.5,2,156.4,2.26,156,3.69,155.2,4.41,151.7,4.74]];
const R_cyanCol=[[151,2.39,152.9,1.87,154.8,.76,154,.27,152.1,.27,151,1.74],[40.5,2.35,41,2.1,40.6,2,40.2,2.1],[23.7,5.9,27,5.4,28,5,25,4.4,22.5,4.4,22.5,5.2]];
const R_ge35=[[43.1,4.96,49.7,4.96,55,5,58.3,5,69.8,5,81.3,5,81.6,4.87,77,4.67,70.5,4.48,65.8,4.21,61.2,4.48,58,4.08,55.4,4.41,53.3,4.74,48.3,4.67,45.4,4.48,45.4,4.08,45,3.04,44,3.95,43.2,4.6],[87,3.82,88.2,3.6,90.4,3.04,90.4,1.74,89.5,1.09,88.1,.73,86.3,.9,85.6,1.74,85.6,3.37,85.9,3.69],[75.9,1.84,78.8,1.77,79.5,1.22,77.7,.57,79.5,.27,75.5,.27,76.3,.6,73.4,.5,72,.89,73.4,1.54],[85.9,5.32,89,5.1,91.7,4.87,89.2,4.74,87.7,4.74,85.9,5.06],[93.8,5.06,97.1,5.22,100.6,5,96.4,4.77,94.2,4.87],[45.9,2.72,46.5,2.39,46.1,2.07,45,2.33],[35,3.3,36.4,3.17,36.8,2.85,35.3,2.72],[33.2,1.67,34.6,1.94,36.8,1.64,35.3,1.35],[45.7,1.35,47.2,1.58,49,1.15,47.9,.86],[22,.57,25.2,.57,25.2,.41,22,.41],[71,.44,73.4,.44,73.4,.1,71,.1],[109.5,.37,110.3,.76,111.8,.7,112.6,.44,111,.27,109.1,.27],[105.2,.27,109.1,.27,109.1,.1,105.2,.1],[141.7,.27,143.4,.27,143.4,.1,141.7,.1],[162.2,4.8,169.6,4.6,174.2,4.8,175.4,4.6,173,4.35,168,4.48,163.4,4.67],[188.2,4.64,193.2,4.77,194,4.64,189,4.48],[114.9,5,116.5,5,117.2,4.8,115.3,4.67,113.8,4.87],[65,3.9,65.6,3.9,65.4,3.6],[94.2,.4,97,.48,99.2,.25,94.2,.25],[104.7,.3,108.6,.3,108.6,.1,104.7,.1],[37,.4,39.5,.4,38.5,.27,37,.27],[45.5,.27,49,.27,47.2,.48]];
const R_ge40=[[56.5,4.74,59,4.74,58,4.6],[63.7,4.67,66.2,4.83,68.7,4.64,66.2,4.58]];
const R_lime27=[[86.8,.27,110.6,.27,110.6,.1,86.8,.1],[31,.27,32.8,.27,32.8,.1,31,.1]];
const R_gapsX=[[34.3,37.1],[58,60.8],[146.5,153],[155.8,159.7]];
const R_isles=[[14.5,11.55,16,11.55,17,11.35,17,11.2,14.5,11.2],[18.6,12.1,19.2,12.1,19.2,11.55,18.6,11.7],[32.3,12.55,33.4,12.5,32.8,12.45],[74.8,15.3,75.9,15.3,75.9,15.05,75,15.1],[77,14.86,78.3,14.86,77.7,14.72],[84.5,14.55,86,14.55,85.2,14.48],[179.3,13.95,180,13.95,179.5,13.82],[186.8,13.15,188.6,13.3,188.4,13.15,186.8,13]];
const R_gray=[[70.2,10.48,69.1,10.85,68.7,11.58,70.2,11.94,71.4,11.76,71.2,11.48,71.6,11.15,72.3,11.33,71.2,11.48,73.4,11.7,75.9,11.76,77,12.06,79.1,12.19,81.6,12.43,83.4,12.64,85.2,12.61,87.7,12.85,89.3,12.98,91.3,12.67,91.3,12.43,90.3,12.12,91,11.76,92.4,11.58,93.1,11.88,95.3,12.06,96.4,11.82,99.2,11.55,99.6,11.39,97.4,10.91,97.8,10.66,94.2,10.18,93.1,9.81,90.6,9.38,90.6,8.9],[75.2,10.6,76.3,10.97,79.8,11.33,82,11.82,83.9,11.55,82,11.15,80.2,11.09,79.8,10.54,78.4,10.05,78.8,9.5,79.1,9.32,81.3,9.69,81.6,10.54,86.3,10.3,86.3,10.18,83.4,9.81,82,9.44,82,8.9],[48.6,13.04,49.3,12.61,50.4,12.28,51.5,12.61],[49,9,53.3,9.8,55.4,9.98,57.6,9.92,57.6,9.32,56.2,8.9],[61.9,10.72,62.6,11.12,64.4,10.66,64.4,10.24],[69.8,8.9,69.8,9.5,72.7,9.2,74.1,9.75,75.2,10.6],[88.4,11.02,89.7,11.45,90.2,11.05,89.7,10.8,88.4,11.02],[100.5,10.3,104,10.69,104.5,10.48,102,10.2,100.5,10.3],[97,9.18,99.7,9.43,100,9.18,98.5,8.9],[110.3,12.34,110,12,108.2,11.67],[111,12.34,113.8,11.7,111.8,11.09,112.6,10.78,111.8,10.54,110.3,10.75],[126.6,12,125.4,11.52,126.9,11.52,128.3,11.85,127.7,12],[156,10.36,151.7,11.03,150.2,11.33,150.2,11.94,151.7,12.08,153.7,12,154.8,11.76,154.5,11.55,155.6,11.45,162.6,11.42,164.1,11.52,167.6,11.52,170.3,11.36,171.9,11.48,174.2,11.24,174.2,11.09,171.9,10.91,168.8,11.06,165.7,10.85,163.4,10.94,162.6,10.6,166.9,10.36,166.5,10.18,162.6,10.02,155.6,9.57,152.5,9.35,150.6,9.69],[130,8.9,134.7,9.14,135.5,9.69,138.6,9.9,141.7,10,143.2,9.14,145.5,9.14,146.7,9.29,149.4,9.08],[194.2,9.44,191.1,9.6,189.6,9.49,186.6,9.63,186.2,9.38,186.6,8.9],[176.9,11.39,178.4,11.48,181.1,11.39,181,11.21,177.6,11.27,176.9,11.39],[157.6,10.3,161,10.48,161.8,10.36,159.9,10.11,158.3,10.11,157.6,10.3],[104,10.3,107.6,10.69,108,10.48,104.8,10.2,104,10.3],[111.3,10.42,112.2,10.48,114.9,10.18,111.8,10.11,111.3,10.42],[117.9,10.18,121.1,10.45,121.1,10.18,119.6,10.05,117.9,10.18],[102.1,7.41,106,7.93,102.5,8.39,104,8.9],[128.5,8.68,132,8.42,133.9,7.93,133.5,7.57,131.2,7.31,128.9,7.5,126.2,7.8,123.8,7.93,121.5,8.19,122.3,7.73,125,8.32],[140.1,8.45,143.2,8.25,146.3,8.19,147.1,7.6,146.5,6.95,149.4,6.56,152.5,6.04,152.9,5.88],[149,8.9,150.2,8.45,153.7,7.86,156.4,8.06,157.8,7.99,156.4,7.34,153.3,7.24,157.2,6.82,157.6,6.5,155.2,6.1,159.1,5.84,159.1,5.45],[161,8.9,163.8,8.58,161.8,7.93],[179.7,8.22,175.4,8.06,171.9,7.54,171.5,6.95,171.9,6.63,170.3,6.17,168.8,6.3,166.9,5.84,166.5,5.26,164.1,5.26,162.6,5.65,161,5.32],[183.5,7.67,182.4,7.28,183.5,6.98,188.2,7.2,191.3,7.41,194.4,7.37],[135.5,5.84,135.5,6.23,139.3,6.46,141.3,6.3,141.7,5.58,143.2,6.4,144.6,6.17,144.9,5.71],[102.1,6.1,104.5,5.94,107.6,6.23,108.8,6.56,110.3,7.05,110.7,6.36],[122.3,5.58,121.5,5.13,122.7,4.35],[112.6,5.52,112.6,5.2,114.5,4.8],[166.1,.99,171.9,1.19,181.2,1.32,182.3,1.12,184.3,1.09],[194.4,1.19,191.3,.93,189.7,.83],[38.6,6.56,37.5,6.3,37.2,5.45,36.8,4.74,36.8,4.35,39.3,4.41,39.6,5.65],[37.1,7.54,37.5,7.02,41.4,7.08,42.9,6.76,42.9,5.84,42.5,5.26],[43.9,5.65,44.7,5.84,45.4,4.35],[46.8,8.06,46.8,5.38,47.5,5.26,52.6,5.36,55.4,6.25,57.6,6.3,59.8,6.46,59,6.82,57.9,7.34,55.4,8.25,55.8,8.9],[57.9,7.34,62.6,8.25,64.4,8.06,60.4,7.21,59.7,6.82],[63.7,5.97,64.4,5.71,66.9,5.55,69.8,5.91,72.7,5.39,75.2,5.19,82.7,5.78,83.8,6.43,79.8,7.47,79.1,8.19,77.7,7.73,77.7,7.15,73.4,6.53,69.8,6.95,68.7,6.72],[94,6.04,94.2,7.28,97.1,7.8,96.4,8.65,99.2,8.78,102.8,8.71,105.3,8.06,99.9,7.34,97.8,6.3],[23.9,7.21,21.3,7.08,21,6.43,24.6,6.23],[17.4,7.9,18.8,7.67,21.7,7.31,23.1,7.67,25.3,7.77],[51,1.48,53.8,1.02,56,1.45,56.7,.9,59.6,1.34,61.7,1.61],[42,.6,41.5,.9,42.5,1,43,.7,42,.6],[45.7,.9,46,.5],[100,.9,103,1,105,1.05],[113.5,1.02,111,1.1],[120,.6,121,1,122,.6],[131,1,134,.65],[136,1.4,137,1.1,135.5,1.05],[103,8.2,106,8.4],[126,8.7,128,8.6]];
const R_grayThick=[[24.6,5.29,27.4,5.52,29.9,5.49,29.5,5],[40.7,4.84,43.2,4.41,43.2,4.28,39.6,4.31,41.7,4.6,40.7,4.84],[51.8,8.32,51.8,8.06],[85.2,4.8,83.1,4.74,82.7,4.28,85.2,4.28,85.2,4.8],[58,5.06,58,4.67],[175,5.06,175,4.87],[175,4.74,177.5,4.78,177.9,4.58,175.8,4.5,175,4.74],[106.4,4.35,106.4,4.05],[108.5,4.5,108,4.3,106.5,4.3],[167,1.65,168,1.5,168.2,1.4],[184.3,2.06,182.7,1.84],[14.5,5.1,16,5]];
const R_grayBlobs=[[35.3,4.31,36.8,3.89,33.9,3.89],[142.8,5.2,144.4,5.2,145.5,4.8,142.4,4.8],[144,4.67,145.2,4.55,144,4.42,143,4.55],[167,1.6,168,1.55,168.2,1.3,167.2,1.3]];
const R_black=[[58.7,14.38,59,13.95,55.4,13.62,55.1,13.46,55.8,13.22,54.7,12.49,53.3,11.82,52.6,11.64,52.6,11.09,51.5,10.78,51.8,10.36,50.4,10.13,49.6,10.42,49.6,11.15,51.5,11.58,47.5,12.09,46.1,12,45.4,11.73],[59.7,14.38,59.6,13.4],[60.5,12.7,61.5,12.12,61.2,11.33,59.4,10.6,56.2,10.45,52.6,10.02,49.7,9.87,48.3,9.5,47.9,8.9,47.5,8.19,44.7,6.69,43.4,7.67,41.4,8.06,40.4,8.58,40.4,8.9,40,9.93,38.6,10.18],[69.1,13.62,69.4,13.22,70,13.07,71.6,13.22,73.4,14.32,74.5,14.5,76.3,14.53,77.7,14.38,77,13.1,77.5,12.98,80.6,13.52],[62.5,14.2,66,14.1,67.5,14.05],[45.7,5.49,46.8,5.13,49.7,5.19,56.2,5.24,57.6,4.87,56.2,4.74,53.6,4.96,51.1,4.6,48.3,4.6,45.7,4.74],[59,4.74,59,5.2,60.5,5.32,62.3,5.25],[86.7,6.01,87,5.68,90.6,5.19,93.1,4.48,92.6,4.2],[83.1,5.45,82,5.13,85.2,4.83,85.6,4.35],[93.9,4.93,94,5.2,96.5,5.3,98,5.05],[114.9,5.65,114.9,6.76,116.1,6.92,118,6.92,119.6,6.73,122.3,6.59,119.6,6.37,118.8,5.58,118.4,5],[123.4,4.35,123.8,6.3,126.2,6.3,128.1,5.97,128.9,5.09],[129.9,4.35,130.4,4.93,131.6,5.19,132.8,5.12,133.5,4.35],[127.3,10.36,130,10.02,133.1,9.87,136.2,10.02,137.4,10.54,139.3,10.91,139,11.12,137.4,10.94,134.7,11.18,132,10.91],[139.7,11.64,140.5,11.85,142,11.6],[72.5,4.2,73,4.4],[76.5,4.3,78,4.1,79,4.15],[75.2,1.85,76,1.4,77,1.1]];
const R_blackThick=[[26.2,4.85,26.8,4.5],[26.6,4.85,27.2,4.5],[23,1.3,23.2,1.05],[22.8,1.1,24,1.05],[29,1.35,29.5,1.05],[29.5,1.2,31,1.1],[29.5,1.05,31,.95],[36.7,4.35,36.7,4]];
const R_marks=[41.2,7.4,41.2,7.5,96.3,7.4,96.3,7.3,65,12.3,65.8,12.4,152,10.7,152,10.6];
const R_labels=[[44,11.4,-100,"-1"],[51.9,13.1,-90,"-1"],[59.9,13,-90,"1"],[70,14,-70,"1"],[80.6,13.83,-90,"1"],[86,14,-40,"1"],[61.9,10.2,-100,"-1"],[69.8,10.08,-90,"-1"],[65.1,9.45,-80,"-1"],[22.8,8.55,-90,"-1"],[48.2,8.6,-90,"-1"],[23.5,7.95,-60,"-1"],[22.8,6.76,-90,"-1"],[39.6,6.2,-90,"-1"],[60.8,8.8,-90,"-1"],[68,6.33,-70,"-1"],[41.3,5.29,-90,"-1"],[45.4,4.93,-90,"-1"],[73,5.19,90,"1"],[75.9,5.06,-60,"1"],[84.7,5.7,-50,"1"],[98.1,5,-45,"1"],[107,4.85,-60,"5"],[66.4,4.93,-90,"-1"],[30.7,5.2,90,"-5"],[26.7,4.93,90,"5"],[35.7,4.57,90,"5"],[79.8,1.41,-90,"1"],[81.6,1.15,-90,"1"],[94.2,1.15,0,"1"],[87.7,.9,-45,"1"],[109,11.1,-80,"-1"],[140.5,11.36,0,"1"],[129.3,10.63,-50,"-1"],[152.5,10.15,-50,"-1"],[189.1,11.76,-110,"1"],[180.8,8.7,-70,"-1"],[160.5,8.3,-90,"-1"],[188.6,7.83,-50,"-1"],[126.2,7.44,-60,"-1"],[114.4,5.9,-60,"-1"],[117.4,5.35,-90,"1"],[134.5,5.45,-90,"-1"],[152.1,5.45,-90,"-1"],[143.6,5.49,90,"5"],[159.9,5.22,-50,"1"],[120,5,-90,"-1"],[128.9,4.74,-90,"-1"],[158.3,1.5,-90,"-1"],[189.7,.99,-60,"-1"],[168.4,1.32,0,"-5"],[179.3,1.67,0,"-5"],[115,1.15,-30,"-1"],[122.7,1.28,-90,"1"]];

const pts=a=>{const o=[];for(let i=0;i<a.length;i+=2)o.push({x:a[i],y:a[i+1]});return o;};
const poly=(a,c)=>Plot.line(pts(a),{x:"x",y:"y",fill:c,stroke:c,strokeWidth:0.8,curve:"linear-closed"});
const polys=(l,c)=>l.map(a=>poly(a,c));
const lines=(l,c,w)=>l.map(a=>Plot.line(pts(a),{x:"x",y:"y",stroke:c,strokeWidth:w}));
const labelMark=l=>Plot.text(l,{x:d=>d[0],y:d=>d[1],rotate:d=>d[2],text:d=>d[3],fontSize:30,fill:"#000"});
const gaps=(g,y1,y2)=>g.map(([a,b])=>poly([a,y1,b,y1,b,y2,a,y2],C.w));

function frame(dom,xTicks,marks,title,yAxis){
  const fmt=d=>d<0?"\u2212"+(-d):String(d);
  const xm=(dom[0]+dom[1])/2;
  const out=[
    Plot.ruleX(xTicks,{stroke:"#000",strokeWidth:1.6,strokeDasharray:"1.6,6.2"}),
    Plot.ruleY(yTicks,{stroke:"#000",strokeWidth:1.6,strokeDasharray:"1.6,6.2"}),
    ...marks,
    Plot.ruleX(xTicks,{y1:0,y2:.12,stroke:"#333",strokeWidth:2}),
    Plot.ruleX(xTicks,{y1:17.88,y2:18,stroke:"#333",strokeWidth:2}),
    Plot.ruleY(yTicks,{x1:dom[0],x2:dom[0]+(dom[1]-dom[0])*.018,stroke:"#555",strokeWidth:2.4}),
    Plot.ruleY(yTicks,{x1:dom[1]-(dom[1]-dom[0])*.018,x2:dom[1],stroke:"#555",strokeWidth:2.4}),
    Plot.frame({stroke:"#333",strokeWidth:3}),
    Plot.axisX(xTicks,{tickSize:0,tickPadding:9,tickFormat:fmt,fontSize:36,label:null}),
    Plot.text([title[0]],{x:[xm],y:[18],text:d=>d,dy:-71,lineAnchor:"bottom",fontSize:48,fill:"#000"}),
    Plot.text([title[1]],{x:[xm],y:[18],text:d=>d,dy:-14,lineAnchor:"bottom",fontSize:48,fill:"#000"})
  ];
  if(yAxis) out.push(Plot.axisY(yTicks,{tickSize:0,tickPadding:10,tickFormat:fmt,fontSize:36,label:null}));
  return out;
}
const leftMarks=[
  poly(L_env,C.n),...polys(L_isles,C.n),poly(L_ge0,C.b0),...polys(L_bluePieces,C.b0),poly(L_navyMoat,C.n),poly(L_navyTongue,C.n),...polys(L_navySpots,C.n),
  poly(L_moatBlue,C.b0),poly(L_moat5,C.b5),poly(L_moat10,C.b10),poly(L_moat15,C.b15),
  poly(L_ge5,C.b5),...polys(L_b10Pieces,C.b10),poly(L_ge10,C.b10),poly(L_ge15,C.b15),poly(L_ge20,C.b20),
  poly(L_ge25a,C.b25),poly(L_ge25b,C.b25),poly(L_ge25c,C.b25),poly(L_ge25d,C.b25),...polys(L_holes20,C.b20),...polys(L_cyanSpots,C.b15),
  ...polys(L_ge30,C.b30),...polys(L_ge35,C.b35),...polys(L_amberSpots,C.b30),...polys(L_ge40,C.b40),...gaps(L_gapsX,.28,.41),
  poly([-115,5.45,-113.5,5.5,-114.2,4.95,-115,5],C.w),poly([-108.5,6.05,-107.3,6.05,-107.3,5.85,-108.5,5.85],C.w),
  ...lines(L_gray,"#808080",2.5),...lines(L_grayThick,"#808080",5),...polys(L_grayBlobs,"#808080"),
  ...lines(L_black,"#000",2.6),...lines(L_blackThick,"#000",5),
  Plot.dot(pts(L_marks),{x:"x",y:"y",r:3,fill:"#000"}),labelMark(L_labels),
  Plot.text(["dBZ-shaded"],{x:[-190.1],y:[16.6],text:d=>d,textAnchor:"start",lineAnchor:"bottom",fontSize:76,fill:"#000",dy:13}),
  Plot.text(["W (m/s)"],{x:[-190.1],y:[15.37],text:d=>d,textAnchor:"start",lineAnchor:"bottom",fontSize:76,fill:"#000",dy:13}),
  Plot.text(["Altitude (km)"],{x:[-200],y:[9],text:d=>d,rotate:-90,dx:-95,fontSize:48,fill:"#000"}),
  Plot.text(["(a)"],{x:[-200],y:[0],text:d=>d,dx:-180,dy:38,textAnchor:"middle",fontSize:80,fontWeight:500,fontFamily:"Liberation Serif",fill:"#000"})
];
const rightMarks=[
  poly(R_env,C.n),...polys(R_isles,C.n),poly(R_ge0,C.b0),poly(R_blueBlob,C.b0),...polys(R_navySpots,C.n),
  poly(R_ge5,C.b5),poly(R_ge10,C.b10),...polys(R_b10Spot,C.b10),poly(R_ge15,C.b15),poly(R_ge20,C.b20),poly(R_ge25,C.b25),...polys(R_lime25b,C.b25),
  ...polys(R_ge30,C.b30),...polys(R_lime,C.b25),...polys(R_lime27,C.b25),...polys(R_greenSpots,C.b20),...polys(R_cyanCol,C.b15),
  ...polys(R_ge35,C.b35),...polys(R_ge40,C.b40),...gaps(R_gapsX,.27,.4),
  ...lines(R_gray,"#808080",2.5),...lines(R_grayThick,"#808080",5),...polys(R_grayBlobs,"#808080"),
  ...lines(R_black,"#000",2.6),...lines(R_blackThick,"#000",5),
  Plot.dot(pts(R_marks),{x:"x",y:"y",r:3,fill:"#000"}),labelMark(R_labels)
];
const base={height:1548,marginTop:133,marginBottom:94,y:{domain:[0,18]},style:{overflow:"visible",background:"transparent",fontFamily:"DejaVu Sans",color:"#000"}};
const root=document.getElementById("c");
const add=(el,left)=>{el.style.left=left+"px";root.appendChild(el);};
add(Plot.plot({...base,width:1770,marginLeft:258,marginRight:10,x:{domain:[-200,0]},marks:frame([-200,0],xTicksL,leftMarks,["170908H2 (IRMA)","204654 to 211346 UTC"],true)}),0);
add(Plot.plot({...base,width:1430,marginLeft:4,marginRight:5,x:{domain:[0,200]},marks:frame([0,200],xTicksR,rightMarks,["170908H2 (IRMA)","211346 to 214022 UTC"],false)}),1770);
const barData=barColors.map((c,i)=>({y1:barLevels[i],y2:barLevels[i+1],c}));
add(Plot.plot({...base,width:164,marginLeft:5,marginRight:88,x:{domain:[0,1],axis:null},y:{domain:[-5,50]},marks:[
  Plot.rect(barData,{x1:0,x2:1,y1:"y1",y2:"y2",fill:d=>d.c}),
  Plot.ruleY(barTicks,{x1:.85,x2:1,stroke:"#222",strokeWidth:2}),
  Plot.frame({stroke:"#222",strokeWidth:2.6}),
  Plot.axisY(barTicks,{anchor:"right",tickSize:0,tickPadding:10,tickFormat:d=>d<0?"\u2212"+(-d):String(d),fontSize:36,label:null})
]}),3200);
</script></body></html>
